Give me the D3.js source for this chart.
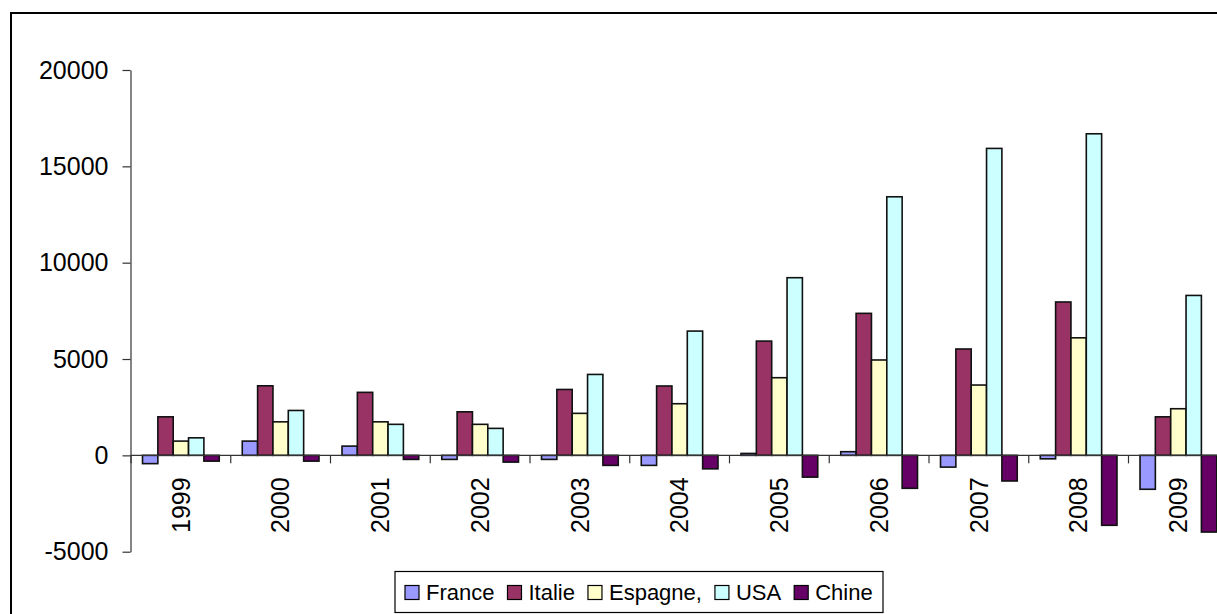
<!DOCTYPE html>
<html>
<head>
<meta charset="utf-8">
<script src="https://cdn.jsdelivr.net/npm/d3@7/dist/d3.min.js"></script>
<style>
  html, body { margin: 0; padding: 0; background: #fff; }
  svg { display: block; font-family: "Liberation Sans", Arial, sans-serif; }
</style>
</head>
<body>
<svg id="chart" width="1217" height="614"></svg>
<script>
// Years on the category axis
const years = ["1999", "2000", "2001", "2002", "2003", "2004", "2005", "2006", "2007", "2008", "2009"];

// One array per country
const france  = [-430, 740, 480, -210, -210, -520, 100, 190, -610, -180, -1760];
const italie  = [2000, 3610, 3270, 2260, 3420, 3600, 5930, 7370, 5520, 7960, 2000];
const espagne = [740, 1740, 1740, 1610, 2180, 2680, 4030, 4950, 3650, 6100, 2420];
const usa     = [910, 2330, 1610, 1400, 4200, 6450, 9220, 13420, 15930, 16690, 8300];
const chine   = [-300, -300, -210, -350, -520, -700, -1130, -1710, -1330, -3630, -3980];

const seriesNames = ["France", "Italie", "Espagne,", "USA", "Chine"];
const seriesValues = [france, italie, espagne, usa, chine];
const seriesColors = ["#9999FF", "#993366", "#FFFFCC", "#CCFFFF", "#660066"];

const yTicks = [-5000, 0, 5000, 10000, 15000, 20000];

const svg = d3.select("#chart");

// Chart frame
svg.append("rect")
  .attr("x", 11).attr("y", 13)
  .attr("width", 1240).attr("height", 640)
  .attr("fill", "#fff").attr("stroke", "#000").attr("stroke-width", 2);

const plotLeft = 131;
const bandW = 99.75;
const x0 = d3.scaleBand().domain(years)
  .range([plotLeft, plotLeft + bandW * years.length])
  .paddingInner(0).paddingOuter(0);

const gapUnits = 1.5;
const barUnit = bandW / (seriesNames.length + gapUnits);
const x1 = d3.scaleBand().domain(seriesNames)
  .range([barUnit * gapUnits / 2, bandW - barUnit * gapUnits / 2])
  .padding(0);

const y = d3.scaleLinear().domain([-5000, 20000]).range([551.7, 70]);

// Value axis (plain hyphen for negatives)
const yAxis = svg.append("g")
  .attr("transform", `translate(${plotLeft - 0.5},0)`)
  .call(d3.axisLeft(y).tickValues(yTicks).tickSize(8).tickSizeOuter(0).tickPadding(14)
    .tickFormat(d => String(d)));
yAxis.select(".domain").attr("stroke", "#333").attr("stroke-width", 1.2);
yAxis.selectAll(".tick line").attr("stroke", "#333").attr("stroke-width", 1.2);
yAxis.selectAll(".tick text")
  .attr("font-size", 25).attr("fill", "#000")
  .attr("font-family", "Liberation Sans, Arial, sans-serif");

// Bars
const groups = svg.append("g").selectAll("g")
  .data(years)
  .join("g")
  .attr("transform", d => `translate(${x0(d)},0)`);

groups.selectAll("rect")
  .data((yr, i) => seriesNames.map((name, s) => ({ name, s, v: seriesValues[s][i] })))
  .join("rect")
  .attr("x", d => x1(d.name))
  .attr("width", x1.bandwidth())
  .attr("y", d => y(Math.max(0, d.v)))
  .attr("height", d => Math.abs(y(d.v) - y(0)))
  .attr("fill", d => seriesColors[d.s])
  .attr("stroke", "#111")
  .attr("stroke-width", 1.6);

// Category axis along zero
const zeroY = y(0);
svg.append("line")
  .attr("x1", plotLeft - 0.5).attr("x2", 1217)
  .attr("y1", zeroY).attr("y2", zeroY)
  .attr("stroke", "#333").attr("stroke-width", 1.2);

const boundaries = years.map(d => x0(d)).concat([x0.range()[1]]);
svg.append("g").selectAll("line")
  .data(boundaries)
  .join("line")
  .attr("x1", d => d).attr("x2", d => d)
  .attr("y1", zeroY).attr("y2", zeroY + 8)
  .attr("stroke", "#333").attr("stroke-width", 1.2);

svg.append("g").selectAll("text")
  .data(years)
  .join("text")
  .attr("transform", d => `translate(${x0(d) + x0.bandwidth() / 2},${zeroY + 22}) rotate(-90)`)
  .attr("text-anchor", "end")
  .attr("dy", "0.35em")
  .attr("font-size", 25)
  .attr("fill", "#000")
  .text(d => d);

// Legend
const legend = svg.append("g");
legend.append("rect")
  .attr("x", 395).attr("y", 571.5)
  .attr("width", 488).attr("height", 41)
  .attr("fill", "#fff").attr("stroke", "#000").attr("stroke-width", 1.2);

let lx = 405;
seriesNames.forEach((name, s) => {
  legend.append("rect")
    .attr("x", lx).attr("y", 585.5)
    .attr("width", 14).attr("height", 14)
    .attr("fill", seriesColors[s]).attr("stroke", "#000").attr("stroke-width", 1.2);
  const t = legend.append("text")
    .attr("x", lx + 21).attr("y", 600)
    .attr("font-size", 22).attr("fill", "#000")
    .text(name);
  lx += 21 + t.node().getComputedTextLength() + 13;
});
</script>
</body>
</html>
